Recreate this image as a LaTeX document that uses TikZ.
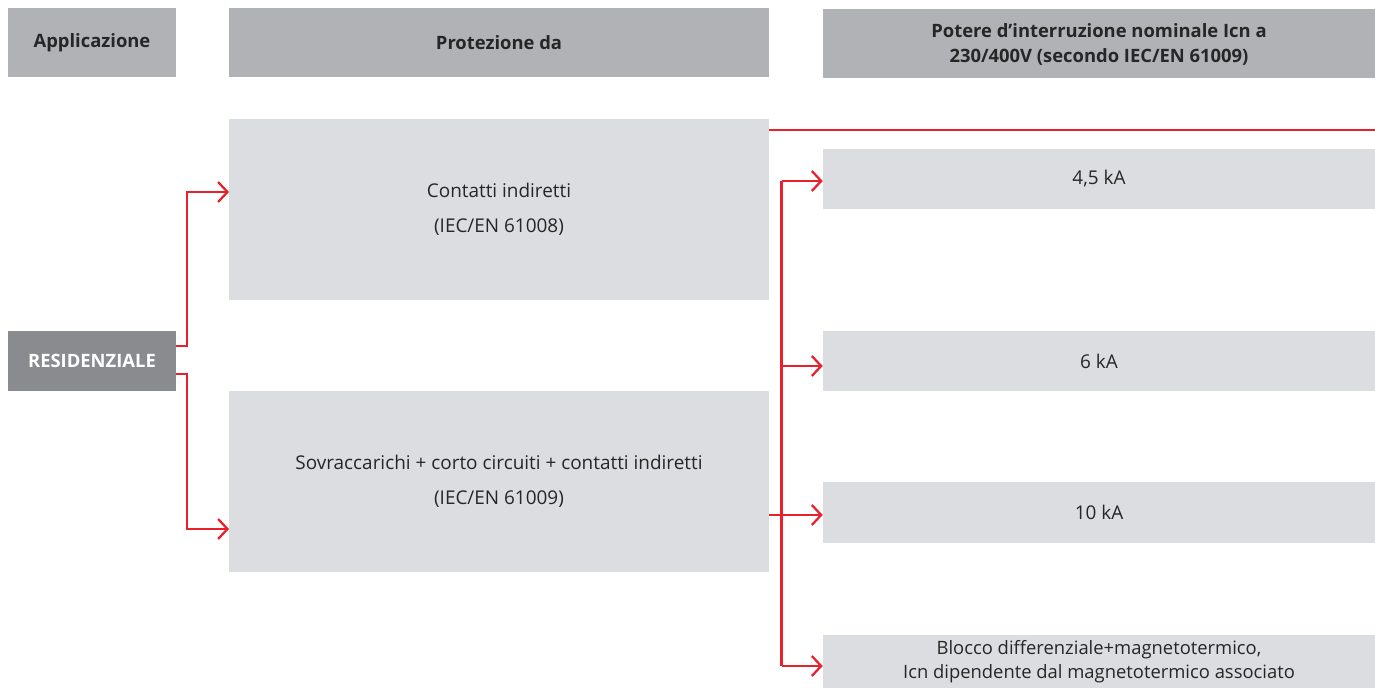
\documentclass[tikz,border=0pt]{standalone}
\usepackage{fontspec}
\setmainfont{Open Sans}
\usetikzlibrary{arrows.meta}
\definecolor{hdr}{HTML}{B1B2B6}
\definecolor{lite}{HTML}{DCDDE0}
\definecolor{dark}{HTML}{8A8B8F}
\definecolor{abbred}{HTML}{E8212B}
\definecolor{txt}{HTML}{262626}
\tikzset{
  hdrbox/.style={fill=hdr, inner sep=0pt, text=txt, font=\bfseries\fontsize{13.8}{18.75}\selectfont, align=center},
  litebox/.style={fill=lite, inner sep=0pt, text=txt, font=\fontsize{14.2}{26}\selectfont, align=center},
  resbox/.style={fill=dark, inner sep=0pt, text=white, font=\bfseries\fontsize{13.8}{14}\selectfont, align=center},
  conn/.style={draw=abbred, line width=1.7pt},
  arr/.style={conn, -{Straight Barb[length=7pt, width=15pt, line width=1.7pt]}},
}
\begin{document}
\begin{tikzpicture}[x=0.75pt, y=-0.75pt]
\useasboundingbox (0,0) rectangle (1375,688);
% headers
\node[hdrbox, minimum width=126pt, minimum height=51.75pt] (hA) at (92,42.5) {Applicazione};
\node[hdrbox, minimum width=405pt, minimum height=51.75pt] (hP) at (499,42.5) {Protezione da};
\node[hdrbox, minimum width=414pt, minimum height=51.75pt] (hI) at (1099,44) {Potere d’interruzione nominale Icn a\\230/400V (secondo IEC/EN 61009)};
% left
\node[resbox, minimum width=126pt, minimum height=45pt] (res) at (92,361) {RESIDENZIALE};
% middle
\node[litebox, minimum width=405pt, minimum height=135.75pt] (c1) at (499,209.5) {Contatti indiretti\\(IEC/EN 61008)};
\node[litebox, minimum width=405pt, minimum height=135.75pt] (c2) at (499,481.5) {Sovraccarichi + corto circuiti + contatti indiretti\\(IEC/EN 61009)};
% right
\node[litebox, minimum width=414pt, minimum height=45pt] (k1) at (1099,179) {4,5 kA};
\node[litebox, minimum width=414pt, minimum height=45pt] (k2) at (1099,361) {6 kA};
\node[litebox, minimum width=414pt, minimum height=45.75pt] (k3) at (1099,512.5) {10 kA};
\node[litebox, minimum width=414pt, minimum height=40.5pt, font=\fontsize{13.8}{18}\selectfont] (k4) at (1099,662) {Blocco differenziale+magnetotermico,\\Icn dipendente dal magnetotermico associato};
% red rule
\coordinate (ruleA) at (769,130);
\coordinate (ruleB) at (1375,130);
\draw[conn] (ruleA) -- (ruleB);
% left connectors
\coordinate (r1) at (176,346);
\coordinate (r2) at (176,374);
\coordinate (c1in) at (229,192);
\coordinate (c2in) at (229,529);
\draw[arr] (r1) -- (187,346) |- (c1in);
\draw[arr] (r2) -- (187,374) |- (c2in);
% right bus
\coordinate (bTop) at (781.5,181);
\coordinate (b2) at (781.5,366);
\coordinate (b3) at (781.5,515);
\coordinate (bBot) at (781.5,666);
\draw[conn] (bTop) -- (bBot);
\draw[conn] (c2.east |- b3) -- (b3);
\draw[arr] (bTop) -- (bTop -| k1.west);
\draw[arr] (b2) -- (b2 -| k2.west);
\draw[arr] (b3) -- (b3 -| k3.west);
\draw[arr] (bBot) -- (bBot -| k4.west);
\end{tikzpicture}
\end{document}
